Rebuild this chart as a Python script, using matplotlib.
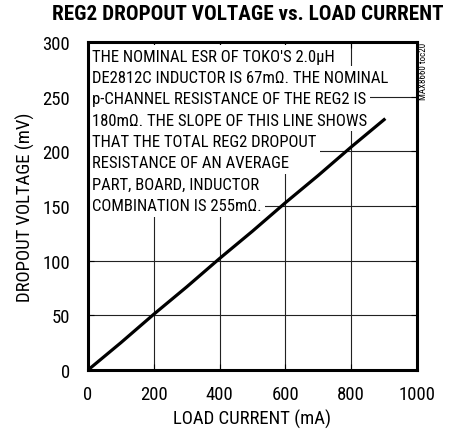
import numpy as np
import matplotlib.pyplot as plt

plt.rcParams['font.family'] = ['Roboto Condensed', 'Liberation Sans', 'DejaVu Sans']

# data
load_current = [0, 100, 200, 300, 400, 500, 600, 700, 800, 900]
dropout_mv = [0, 25, 51, 76, 102, 127, 153, 178, 204, 229]

x_ticks = [0, 200, 400, 600, 800, 1000]
y_ticks = [0, 50, 100, 150, 200, 250, 300]

note_lines = [
    "THE NOMINAL ESR OF TOKO'S 2.0\u03bcH",
    "DE2812C INDUCTOR IS 67m\u03a9. THE NOMINAL",
    "p-CHANNEL RESISTANCE OF THE REG2 IS",
    "180m\u03a9. THE SLOPE OF THIS LINE SHOWS",
    "THAT THE TOTAL REG2 DROPOUT",
    "RESISTANCE OF AN AVERAGE",
    "PART, BOARD, INDUCTOR",
    "COMBINATION IS 255m\u03a9.",
]

fig = plt.figure(figsize=(4.49, 4.31), dpi=100)
ax = fig.add_axes([88 / 449, 1 - 371 / 431, 329 / 449, 328 / 431])

ax.set_xlim(0, 1000)
ax.set_ylim(0, 300)
ax.set_xticks(x_ticks)
ax.set_yticks(y_ticks)
ax.grid(True, color='#222222', linewidth=0.8)
ax.set_axisbelow(True)

for s in ax.spines.values():
    s.set_linewidth(2.2)
ax.tick_params(direction='in', length=4, width=0.8, labelsize=13.5,
               top=True, right=True)
ax.tick_params(axis='x', pad=11)
ax.tick_params(axis='y', pad=13)

# note text, each line blanks the grid behind it
y0, dy = 287, 19.5
for i, line in enumerate(note_lines):
    ax.text(12, y0 - i * dy, line, fontsize=12.0, va='center', ha='left',
            bbox=dict(facecolor='white', edgecolor='none', pad=2.6), zorder=2)

ax.plot(load_current, dropout_mv, color='black', linewidth=2.3, zorder=3)

ax.set_xlabel('LOAD CURRENT (mA)', fontsize=13.5, labelpad=4)
ax.set_ylabel('DROPOUT VOLTAGE (mV)', fontsize=13.5, labelpad=5)

fig.text(248 / 449, 1 - 15 / 431, 'REG2 DROPOUT VOLTAGE vs. LOAD CURRENT',
         fontsize=15.2, fontweight=900, ha='center', va='center')
fig.text(424 / 449, 1 - 71 / 431, 'MAX8660 toc20', fontsize=6.5,
         rotation=90, ha='center', va='center')

fig.savefig('out.png', dpi=100)
